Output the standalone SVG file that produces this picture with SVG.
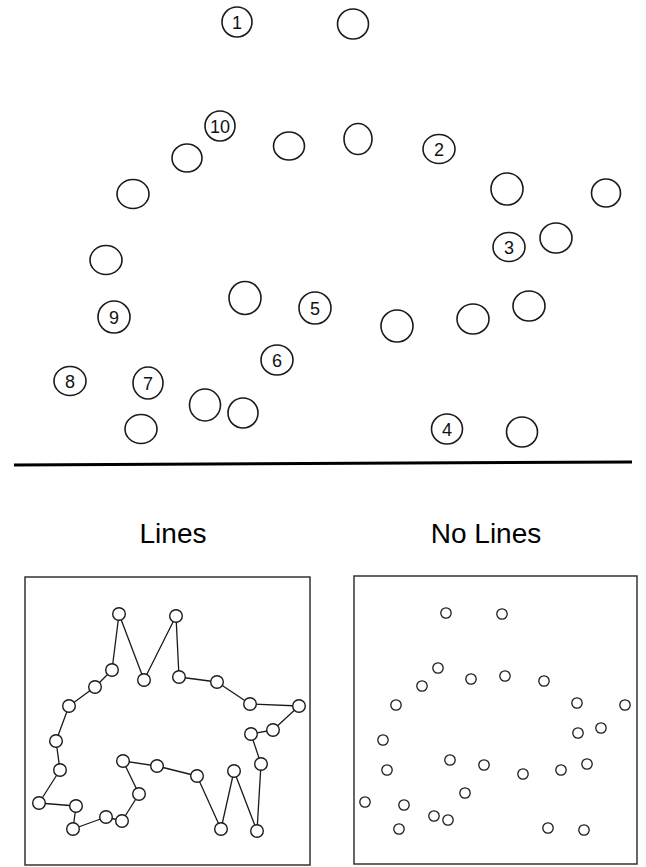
<svg xmlns="http://www.w3.org/2000/svg" width="646" height="867" viewBox="0 0 646 867">
  <style>
    .big { fill: none; stroke: #1a1a1a; stroke-width: 1.6; }
    .num { font-family: "Liberation Sans", Arial, sans-serif; font-size: 18px; fill: #111; text-anchor: middle; dominant-baseline: central; }
    .title { font-family: "Liberation Sans", Arial, sans-serif; font-size: 28px; fill: #000; text-anchor: middle; }
    .frame { fill: none; stroke: #333; stroke-width: 1.5; }
    .dotL { fill: #fff; stroke: #1a1a1a; stroke-width: 1.4; }
    .dotR { fill: #fff; stroke: #1a1a1a; stroke-width: 1.3; }
    .edge { fill: none; stroke: #1a1a1a; stroke-width: 1.3; stroke-linejoin: round; }
    .rule { stroke: #000; stroke-width: 3; }
  </style>
  <rect width="646" height="867" fill="#fff"/>

  <!-- upper field of large circles; numbered ones carry their label -->
  <g id="upper">
    <g id="n1"><ellipse class="big" cx="237" cy="22" rx="15" ry="15"/><text class="num" x="237" y="23">1</text></g>
    <g id="u1"><ellipse class="big" cx="353" cy="24" rx="15.5" ry="15"/></g>
    <g id="n10"><ellipse class="big" cx="220" cy="126" rx="15" ry="15"/><text class="num" x="220" y="127">10</text></g>
    <g id="u2"><ellipse class="big" cx="187" cy="158" rx="15" ry="14"/></g>
    <g id="u3"><ellipse class="big" cx="133" cy="194" rx="16" ry="14.5"/></g>
    <g id="u4"><ellipse class="big" cx="289" cy="146" rx="15.5" ry="14"/></g>
    <g id="u5"><ellipse class="big" cx="358" cy="139" rx="14" ry="15.5"/></g>
    <g id="n2"><ellipse class="big" cx="439" cy="149" rx="16" ry="14.5"/><text class="num" x="439" y="150">2</text></g>
    <g id="u6"><ellipse class="big" cx="507" cy="189" rx="16" ry="16"/></g>
    <g id="u7"><ellipse class="big" cx="606" cy="193" rx="14.5" ry="14"/></g>
    <g id="n3"><ellipse class="big" cx="509" cy="247" rx="16" ry="14.5"/><text class="num" x="509" y="248">3</text></g>
    <g id="u8"><ellipse class="big" cx="556" cy="238" rx="16" ry="15"/></g>
    <g id="u9"><ellipse class="big" cx="529" cy="306" rx="16" ry="15"/></g>
    <g id="u10"><ellipse class="big" cx="473" cy="319" rx="16" ry="15"/></g>
    <g id="u11"><ellipse class="big" cx="397" cy="326" rx="16" ry="16"/></g>
    <g id="n4"><ellipse class="big" cx="447" cy="429" rx="15.5" ry="15"/><text class="num" x="447" y="430">4</text></g>
    <g id="u12"><ellipse class="big" cx="522" cy="432" rx="15.5" ry="15"/></g>
    <g id="u13"><ellipse class="big" cx="106" cy="260" rx="16" ry="14.5"/></g>
    <g id="n9"><ellipse class="big" cx="114" cy="317" rx="16" ry="16"/><text class="num" x="114" y="318">9</text></g>
    <g id="u14"><ellipse class="big" cx="245" cy="298" rx="16" ry="16.5"/></g>
    <g id="n5"><ellipse class="big" cx="315" cy="308" rx="16" ry="16"/><text class="num" x="315" y="309">5</text></g>
    <g id="n6"><ellipse class="big" cx="277" cy="360" rx="16" ry="15"/><text class="num" x="277" y="361">6</text></g>
    <g id="n8"><ellipse class="big" cx="70" cy="381" rx="16" ry="14.5"/><text class="num" x="70" y="382">8</text></g>
    <g id="n7"><ellipse class="big" cx="148" cy="383" rx="15" ry="16"/><text class="num" x="148" y="384">7</text></g>
    <g id="u15"><ellipse class="big" cx="205" cy="405" rx="15.5" ry="16"/></g>
    <g id="u16"><ellipse class="big" cx="243" cy="413" rx="15" ry="15"/></g>
    <g id="u17"><ellipse class="big" cx="141" cy="429" rx="16" ry="14.5"/></g>
  </g>

  <!-- divider -->
  <line class="rule" x1="14" y1="465" x2="632" y2="462"/>

  <text class="title" x="173" y="543">Lines</text>
  <text class="title" x="486" y="543">No Lines</text>

  <!-- left panel: frame, connecting polygon, points -->
  <rect id="frameL" class="frame" x="25" y="577" width="285" height="288"/>
  <g id="connectors">
    <polygon class="edge" points="119,614 144,680 176,616 179,677 217,682 250,704 299,706 273,730 251,734 261,764 257,831 234,771 221,829 197,776 157,766 123,761 139,794 122,821 106,817 73,829 76,806 39,803 60,770 56,741 69,706 95,687 112,670"/>
  </g>
  <g id="pointsL">
    <g id="a1"><circle class="dotL" cx="119" cy="614" r="6.3"/></g>
    <g id="a2"><circle class="dotL" cx="144" cy="680" r="6.3"/></g>
    <g id="a3"><circle class="dotL" cx="176" cy="616" r="6.3"/></g>
    <g id="a4"><circle class="dotL" cx="179" cy="677" r="6.3"/></g>
    <g id="a5"><circle class="dotL" cx="217" cy="682" r="6.3"/></g>
    <g id="a6"><circle class="dotL" cx="250" cy="704" r="6.3"/></g>
    <g id="a7"><circle class="dotL" cx="299" cy="706" r="6.3"/></g>
    <g id="a8"><circle class="dotL" cx="273" cy="730" r="6.3"/></g>
    <g id="a9"><circle class="dotL" cx="251" cy="734" r="6.3"/></g>
    <g id="a10"><circle class="dotL" cx="261" cy="764" r="6.3"/></g>
    <g id="a11"><circle class="dotL" cx="257" cy="831" r="6.3"/></g>
    <g id="a12"><circle class="dotL" cx="234" cy="771" r="6.3"/></g>
    <g id="a13"><circle class="dotL" cx="221" cy="829" r="6.3"/></g>
    <g id="a14"><circle class="dotL" cx="197" cy="776" r="6.3"/></g>
    <g id="a15"><circle class="dotL" cx="157" cy="766" r="6.3"/></g>
    <g id="a16"><circle class="dotL" cx="123" cy="761" r="6.3"/></g>
    <g id="a17"><circle class="dotL" cx="139" cy="794" r="6.3"/></g>
    <g id="a18"><circle class="dotL" cx="122" cy="821" r="6.3"/></g>
    <g id="a19"><circle class="dotL" cx="106" cy="817" r="6.3"/></g>
    <g id="a20"><circle class="dotL" cx="73" cy="829" r="6.3"/></g>
    <g id="a21"><circle class="dotL" cx="76" cy="806" r="6.3"/></g>
    <g id="a22"><circle class="dotL" cx="39" cy="803" r="6.3"/></g>
    <g id="a23"><circle class="dotL" cx="60" cy="770" r="6.3"/></g>
    <g id="a24"><circle class="dotL" cx="56" cy="741" r="6.3"/></g>
    <g id="a25"><circle class="dotL" cx="69" cy="706" r="6.3"/></g>
    <g id="a26"><circle class="dotL" cx="95" cy="687" r="6.3"/></g>
    <g id="a27"><circle class="dotL" cx="112" cy="670" r="6.3"/></g>
  </g>

  <!-- right panel: frame and unconnected points -->
  <rect id="frameR" class="frame" x="354" y="576" width="283" height="288"/>
  <g id="pointsR">
    <g id="b1"><circle class="dotR" cx="446" cy="613" r="5.2"/></g>
    <g id="b2"><circle class="dotR" cx="502" cy="614" r="5.2"/></g>
    <g id="b3"><circle class="dotR" cx="438" cy="668" r="5.2"/></g>
    <g id="b4"><circle class="dotR" cx="422" cy="686" r="5.2"/></g>
    <g id="b5"><circle class="dotR" cx="471" cy="679" r="5.2"/></g>
    <g id="b6"><circle class="dotR" cx="505" cy="676" r="5.2"/></g>
    <g id="b7"><circle class="dotR" cx="544" cy="681" r="5.2"/></g>
    <g id="b8"><circle class="dotR" cx="396" cy="705" r="5.2"/></g>
    <g id="b9"><circle class="dotR" cx="577" cy="703" r="5.2"/></g>
    <g id="b10"><circle class="dotR" cx="625" cy="705" r="5.2"/></g>
    <g id="b11"><circle class="dotR" cx="383" cy="740" r="5.2"/></g>
    <g id="b12"><circle class="dotR" cx="578" cy="733" r="5.2"/></g>
    <g id="b13"><circle class="dotR" cx="601" cy="728" r="5.2"/></g>
    <g id="b14"><circle class="dotR" cx="387" cy="770" r="5.2"/></g>
    <g id="b15"><circle class="dotR" cx="450" cy="760" r="5.2"/></g>
    <g id="b16"><circle class="dotR" cx="484" cy="765" r="5.2"/></g>
    <g id="b17"><circle class="dotR" cx="523" cy="774" r="5.2"/></g>
    <g id="b18"><circle class="dotR" cx="561" cy="770" r="5.2"/></g>
    <g id="b19"><circle class="dotR" cx="587" cy="764" r="5.2"/></g>
    <g id="b20"><circle class="dotR" cx="465" cy="793" r="5.2"/></g>
    <g id="b21"><circle class="dotR" cx="365" cy="802" r="5.2"/></g>
    <g id="b22"><circle class="dotR" cx="404" cy="805" r="5.2"/></g>
    <g id="b23"><circle class="dotR" cx="434" cy="816" r="5.2"/></g>
    <g id="b24"><circle class="dotR" cx="448" cy="820" r="5.2"/></g>
    <g id="b25"><circle class="dotR" cx="399" cy="829" r="5.2"/></g>
    <g id="b26"><circle class="dotR" cx="548" cy="828" r="5.2"/></g>
    <g id="b27"><circle class="dotR" cx="584" cy="830" r="5.2"/></g>
  </g>
</svg>
